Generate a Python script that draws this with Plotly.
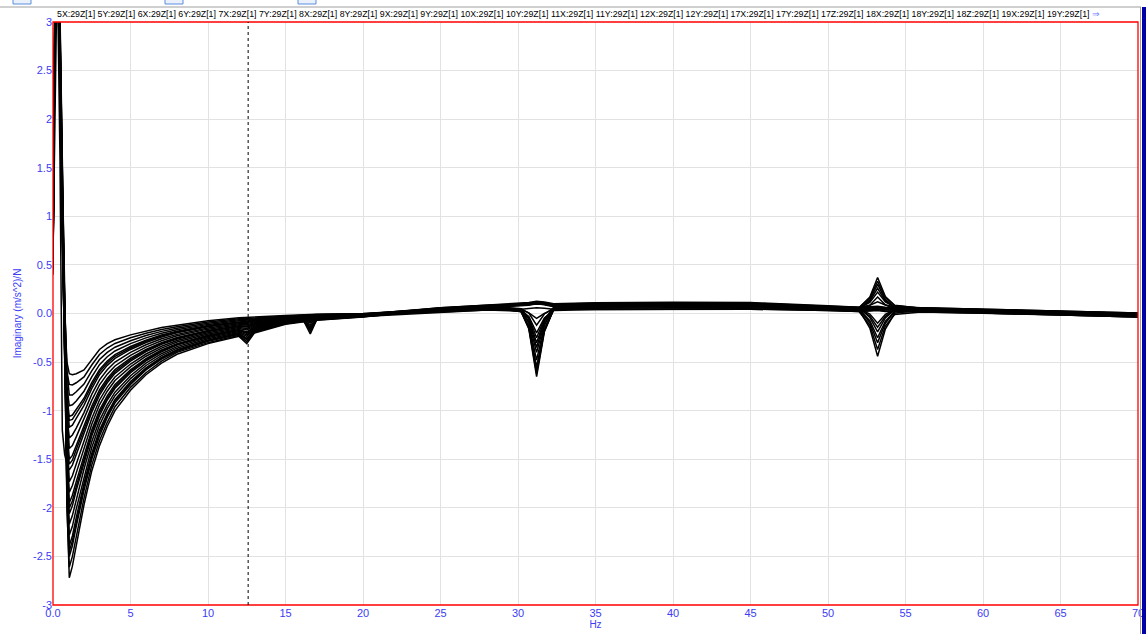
import plotly.graph_objects as go

# Frequency axis of the FRF estimates (Hz)
FREQ_HZ = [0.0, 0.15, 0.3, 0.45, 0.6, 0.75, 0.9, 1.05, 1.25, 1.5, 2.0, 2.5, 3.0, 3.5, 4.0,
           5.0, 6.0, 7.0, 8.0, 10.0, 12.0, 12.5, 13.0, 15.0, 16.2, 16.6, 17.0, 20.0,
           25.0, 28.0, 30.2, 30.7, 31.2, 31.7, 32.3, 35.0, 40.0, 45.0, 50.0,
           52.0, 52.7, 53.2, 53.7, 54.3, 56.0, 60.0, 65.0, 70.0]

# Imaginary part of accelerance, (m/s^2)/N, one list per response channel
frf_5X = [0.45, 3.6, 3.9, 3.0, 1.5, 0.1, -1.95,
          -2.72, -2.60, -2.38, -1.97, -1.62, -1.36, -1.16, -1.00, -0.79, -0.63, -0.51, -0.42, -0.31,
          -0.235, -0.31, -0.20, -0.11, -0.085, -0.21, -0.07, -0.035,
          0.045, 0.07, 0.022, -0.16, -0.65, -0.19, 0.044, 0.08, 0.085, 0.085, 0.06,
          0.05, 0.13, 0.26, 0.13, 0.067, 0.045, 0.03, 0.01, -0.01]
frf_5Y = [0.7, 3.3, 3.7, 2.8, 1.3, -0.1, -2.0,
          -2.61, -2.50, -2.29, -1.90, -1.56, -1.31, -1.12, -0.96, -0.76, -0.61, -0.49, -0.40, -0.30,
          -0.225, -0.29, -0.19, -0.105, -0.081, -0.18, -0.067, -0.033,
          0.035, 0.06, 0.075, 0.085, 0.10, 0.09, 0.07, 0.07, 0.075, 0.075, 0.05,
          0.04, -0.15, -0.44, -0.16, 0.002, 0.035, 0.02, 0.0, -0.02]
frf_6X = [1.1, 3.8, 3.5, 2.6, 1.1, -0.2, -1.85,
          -2.50, -2.39, -2.19, -1.82, -1.50, -1.26, -1.07, -0.92, -0.73, -0.58, -0.47, -0.39, -0.285,
          -0.215, -0.27, -0.183, -0.10, -0.077, -0.16, -0.063, -0.031,
          0.055, 0.08, 0.044, -0.10, -0.48, -0.125, 0.062, 0.10, 0.105, 0.105, 0.07,
          0.06, 0.17, 0.37, 0.175, 0.085, 0.055, 0.04, 0.02, 0.0]
frf_6Y = [0.6, 3.5, 3.6, 2.7, 1.2, -0.05, -1.75,
          -2.45, -2.34, -2.15, -1.78, -1.47, -1.23, -1.05, -0.90, -0.715, -0.57, -0.46, -0.38, -0.279,
          -0.21, -0.26, -0.178, -0.098, -0.075, -0.15, -0.061, -0.03,
          0.05, 0.075, 0.05, -0.06, -0.35, -0.08, 0.063, 0.085, 0.09, 0.09, 0.065,
          0.055, 0.06, 0.065, 0.055, 0.055, 0.05, 0.035, 0.015, -0.005]
frf_7X = [0.5, 3.4, 3.8, 3.1, 1.6, 0.2, -1.6,
          -2.39, -2.29, -2.10, -1.75, -1.44, -1.20, -1.03, -0.885, -0.70, -0.56, -0.452, -0.373, -0.273,
          -0.205, -0.255, -0.174, -0.096, -0.074, -0.14, -0.06, -0.030,
          0.015, 0.035, 0.045, 0.05, 0.06, 0.055, 0.045, 0.04, 0.045, 0.045, 0.03,
          0.02, 0.025, 0.03, 0.02, 0.02, 0.015, 0.005, -0.015, -0.035]
frf_7Y = [0.9, 3.7, 3.6, 2.5, 0.9, -0.35, -1.8,
          -2.28, -2.19, -2.01, -1.68, -1.38, -1.15, -0.98, -0.846, -0.67, -0.535, -0.433, -0.357, -0.26,
          -0.195, -0.235, -0.165, -0.091, -0.07, -0.12, -0.057, -0.028,
          0.04, 0.065, 0.023, -0.14, -0.58, -0.17, 0.042, 0.075, 0.08, 0.08, 0.055,
          0.045, -0.095, -0.30, -0.10, 0.017, 0.04, 0.025, 0.005, -0.015]
frf_8X = [0.6, 3.2, 3.9, 2.9, 1.4, 0.0, -1.55,
          -2.17, -2.08, -1.92, -1.60, -1.32, -1.10, -0.94, -0.81, -0.64, -0.51, -0.414, -0.341, -0.248,
          -0.185, -0.22, -0.157, -0.087, -0.066, -0.10, -0.054, -0.026,
          0.05, 0.075, 0.09, 0.0975, 0.11, 0.1025, 0.085, 0.085, 0.09, 0.09, 0.065,
          0.055, 0.115, 0.22, 0.12, 0.068, 0.05, 0.035, 0.015, -0.005]
frf_8Y = [0.8, 3.5, 3.4, 2.4, 0.8, -0.4, -1.6,
          -2.06, -1.98, -1.82, -1.53, -1.26, -1.05, -0.89, -0.77, -0.61, -0.488, -0.395, -0.325, -0.236,
          -0.175, -0.205, -0.148, -0.082, -0.062, -0.085, -0.05, -0.024,
          0.03, 0.055, 0.036, -0.05, -0.30, -0.07, 0.047, 0.055, 0.06, 0.06, 0.045,
          0.035, 0.04, 0.045, 0.035, 0.035, 0.03, 0.015, -0.005, -0.025]
frf_9X = [0.5, 3.6, 3.8, 2.8, 1.3, -0.2, -1.5,
          -2.00, -1.93, -1.78, -1.50, -1.23, -1.02, -0.87, -0.75, -0.595, -0.476, -0.386, -0.318, -0.23,
          -0.17, -0.198, -0.144, -0.08, -0.06, -0.078, -0.049, -0.023,
          0.04, 0.065, 0.08, 0.09, 0.105, 0.095, 0.075, 0.075, 0.08, 0.08, 0.055,
          0.045, 0.05, 0.055, 0.045, 0.045, 0.04, 0.025, 0.005, -0.015]
frf_9Y = [0.4, 3.6, 3.7, 2.7, 1.2, -0.1, -1.4,
          -1.95, -1.87, -1.73, -1.46, -1.20, -0.995, -0.847, -0.73, -0.58, -0.464, -0.376, -0.31, -0.223,
          -0.165, -0.19, -0.139, -0.077, -0.058, -0.07, -0.047, -0.022,
          0.055, 0.08, 0.095, 0.1025, 0.115, 0.1075, 0.09, 0.10, 0.105, 0.105, 0.07,
          0.06, -0.04, -0.19, -0.045, 0.04, 0.055, 0.04, 0.02, 0.0]
frf_10X = [1.0, 3.3, 3.5, 2.3, 0.7, -0.5, -1.45,
           -1.84, -1.77, -1.64, -1.38, -1.14, -0.94, -0.80, -0.69, -0.55, -0.44, -0.356, -0.294, -0.21,
           -0.155, -0.17, -0.13, -0.072, -0.055, -0.06, -0.044, -0.021,
           0.035, 0.06, 0.02, -0.13, -0.55, -0.16, 0.039, 0.07, 0.075, 0.075, 0.05,
           0.04, 0.14, 0.30, 0.145, 0.061, 0.035, 0.02, 0.0, -0.02]
frf_10Y = [0.55, 3.7, 3.8, 2.9, 1.3, 0.05, -1.2,
           -1.73, -1.67, -1.55, -1.31, -1.08, -0.89, -0.758, -0.654, -0.52, -0.417, -0.337, -0.278, -0.198,
           -0.145, -0.155, -0.122, -0.068, -0.051, -0.054, -0.04, -0.019,
           0.045, 0.07, 0.085, 0.09, 0.10, 0.095, 0.08, 0.08, 0.085, 0.085, 0.06,
           0.05, 0.055, 0.06, 0.05, 0.05, 0.045, 0.03, 0.01, -0.01]
frf_11X = [0.85, 3.4, 3.3, 1.6, -1.2, -1.45, -1.55,
           -1.61, -1.56, -1.45, -1.24, -1.015, -0.84, -0.713, -0.616, -0.49, -0.393, -0.318, -0.262, -0.186,
           -0.135, -0.14, -0.113, -0.063, -0.047, -0.048, -0.037, -0.017,
           0.015, 0.035, 0.025, -0.03, -0.20, -0.045, 0.03, 0.04, 0.045, 0.045, 0.03,
           0.02, -0.12, -0.37, -0.13, -0.01, 0.015, 0.005, -0.015, -0.035]
frf_11Y = [0.7, 3.5, 3.7, 2.6, 1.0, -0.25, -1.3,
           -1.55, -1.51, -1.40, -1.20, -0.985, -0.813, -0.69, -0.597, -0.475, -0.381, -0.309, -0.254, -0.18,
           -0.13, -0.134, -0.108, -0.06, -0.045, -0.046, -0.035, -0.016,
           0.035, 0.06, 0.044, -0.04, -0.25, -0.055, 0.054, 0.07, 0.075, 0.075, 0.05,
           0.04, 0.045, 0.05, 0.04, 0.04, 0.035, 0.02, 0.0, -0.02]
frf_12X = [0.65, 3.6, 3.6, 2.6, 1.0, -0.2, -1.15,
           -1.50, -1.46, -1.36, -1.165, -0.955, -0.787, -0.668, -0.578, -0.46, -0.37, -0.30, -0.246, -0.174,
           -0.125, -0.128, -0.104, -0.058, -0.043, -0.044, -0.034, -0.015,
           0.06, 0.09, 0.105, 0.1125, 0.125, 0.1175, 0.10, 0.11, 0.115, 0.112, 0.08,
           0.065, 0.085, 0.12, 0.087, 0.069, 0.06, 0.045, 0.025, 0.005]
frf_12Y = [0.5, 3.5, 3.9, 3.0, 1.5, 0.15, -0.95,
           -1.39, -1.36, -1.27, -1.09, -0.894, -0.735, -0.624, -0.54, -0.43, -0.346, -0.28, -0.23, -0.161,
           -0.115, -0.115, -0.096, -0.054, -0.039, -0.04, -0.03, -0.013,
           0.035, 0.06, 0.032, -0.085, -0.40, -0.105, 0.047, 0.07, 0.075, 0.075, 0.05,
           0.04, 0.045, 0.05, 0.04, 0.04, 0.035, 0.02, 0.0, -0.02]
frf_17X = [0.95, 3.8, 3.5, 2.5, 0.9, -0.3, -1.05,
           -1.28, -1.25, -1.18, -1.02, -0.833, -0.683, -0.579, -0.50, -0.40, -0.322, -0.26, -0.215, -0.149,
           -0.105, -0.104, -0.087, -0.049, -0.036, -0.036, -0.027, -0.011,
           0.045, 0.07, 0.085, 0.09, 0.10, 0.095, 0.08, 0.08, 0.085, 0.085, 0.06,
           0.05, -0.005, -0.10, -0.01, 0.038, 0.045, 0.03, 0.01, -0.01]
frf_17Y = [0.6, 3.3, 3.6, 2.7, 1.2, 0.0, -0.85,
           -1.17, -1.15, -1.08, -0.945, -0.773, -0.63, -0.534, -0.462, -0.37, -0.298, -0.241, -0.199, -0.136,
           -0.095, -0.093, -0.078, -0.044, -0.032, -0.032, -0.024, -0.009,
           0.03, 0.055, 0.05, 0.005, -0.12, -0.005, 0.056, 0.065, 0.07, 0.07, 0.045,
           0.035, 0.085, 0.17, 0.09, 0.046, 0.03, 0.015, -0.005, -0.025]
frf_17Z = [0.9, 3.6, 3.4, 2.4, 0.8, -0.35, -0.95,
           -1.10, -1.09, -1.03, -0.90, -0.74, -0.60, -0.51, -0.44, -0.355, -0.285, -0.231, -0.19, -0.13,
           -0.09, -0.088, -0.074, -0.042, -0.03, -0.03, -0.022, -0.008,
           0.06, 0.085, 0.10, 0.105, 0.115, 0.11, 0.095, 0.105, 0.11, 0.108, 0.075,
           0.065, 0.07, 0.075, 0.065, 0.065, 0.06, 0.045, 0.025, 0.005]
frf_18X = [0.75, 3.6, 3.7, 2.8, 1.1, -0.15, -0.85,
           -1.06, -1.045, -0.99, -0.872, -0.712, -0.578, -0.49, -0.424, -0.34, -0.275, -0.222, -0.183, -0.124,
           -0.085, -0.082, -0.07, -0.04, -0.028, -0.028, -0.02, -0.007,
           0.05, 0.075, 0.09, 0.095, 0.105, 0.10, 0.085, 0.085, 0.09, 0.09, 0.065,
           0.055, 0.06, 0.065, 0.055, 0.055, 0.05, 0.035, 0.015, -0.005]
frf_18Y = [0.45, 3.4, 3.5, 2.4, 0.9, -0.2, -0.75,
           -0.95, -0.94, -0.90, -0.80, -0.652, -0.526, -0.445, -0.386, -0.31, -0.251, -0.203, -0.167, -0.112,
           -0.075, -0.07, -0.061, -0.035, -0.024, -0.024, -0.017, -0.005,
           0.04, 0.065, 0.019, -0.15, -0.62, -0.18, 0.04, 0.075, 0.08, 0.08, 0.055,
           0.045, -0.075, -0.25, -0.08, 0.021, 0.04, 0.025, 0.005, -0.015]
frf_18Z = [1.05, 3.7, 3.8, 2.9, 1.3, 0.1, -0.6,
           -0.84, -0.84, -0.806, -0.726, -0.59, -0.474, -0.40, -0.347, -0.28, -0.227, -0.184, -0.152, -0.10,
           -0.065, -0.06, -0.052, -0.03, -0.02, -0.02, -0.014, -0.004,
           0.055, 0.08, 0.095, 0.105, 0.12, 0.11, 0.09, 0.09, 0.095, 0.095, 0.07,
           0.06, 0.16, 0.33, 0.165, 0.082, 0.055, 0.04, 0.02, 0.0]
frf_19X = [0.55, 3.5, 3.4, 2.5, 1.0, -0.1, -0.6,
           -0.73, -0.735, -0.713, -0.653, -0.53, -0.422, -0.355, -0.308, -0.25, -0.204, -0.164, -0.136, -0.087,
           -0.055, -0.05, -0.044, -0.025, -0.016, -0.016, -0.011, -0.002,
           0.02, 0.04, 0.041, 0.006, -0.05, 0.0, 0.045, 0.045, 0.05, 0.05, 0.035,
           0.025, 0.03, 0.035, 0.025, 0.025, 0.02, 0.005, -0.015, -0.035]
frf_19Y = [0.8, 3.6, 3.7, 2.6, 1.1, 0.0, -0.5,
           -0.62, -0.63, -0.62, -0.58, -0.47, -0.37, -0.31, -0.27, -0.22, -0.18, -0.145, -0.12, -0.075,
           -0.045, -0.04, -0.035, -0.02, -0.012, -0.012, -0.008, 0.0,
           0.045, 0.07, 0.085, 0.09, 0.10, 0.095, 0.08, 0.08, 0.085, 0.085, 0.06,
           0.05, -0.025, -0.14, -0.03, 0.035, 0.045, 0.03, 0.01, -0.01]

CHANNEL_LABELS = ["5X:29Z[1]", "5Y:29Z[1]", "6X:29Z[1]", "6Y:29Z[1]", "7X:29Z[1]", "7Y:29Z[1]",
                  "8X:29Z[1]", "8Y:29Z[1]", "9X:29Z[1]", "9Y:29Z[1]", "10X:29Z[1]", "10Y:29Z[1]",
                  "11X:29Z[1]", "11Y:29Z[1]", "12X:29Z[1]", "12Y:29Z[1]", "17X:29Z[1]", "17Y:29Z[1]",
                  "17Z:29Z[1]", "18X:29Z[1]", "18Y:29Z[1]", "18Z:29Z[1]", "19X:29Z[1]", "19Y:29Z[1]"]
CHANNEL_DATA = [frf_5X, frf_5Y, frf_6X, frf_6Y, frf_7X, frf_7Y, frf_8X, frf_8Y, frf_9X, frf_9Y,
                frf_10X, frf_10Y, frf_11X, frf_11Y, frf_12X, frf_12Y, frf_17X, frf_17Y, frf_17Z,
                frf_18X, frf_18Y, frf_18Z, frf_19X, frf_19Y]

X_TICKS = [0, 5, 10, 15, 20, 25, 30, 35, 40, 45, 50, 55, 60, 65, 70]
X_TICK_TEXT = ["0.0", "5", "10", "15", "20", "25", "30", "35", "40", "45", "50", "55", "60", "65", "70"]
Y_TICKS = [-3, -2.5, -2, -1.5, -1, -0.5, 0, 0.5, 1, 1.5, 2, 2.5, 3]
Y_TICK_TEXT = ["-3", "-2.5", "-2", "-1.5", "-1", "-0.5", "0.0", "0.5", "1", "1.5", "2", "2.5", "3"]
CURSOR_HZ = 12.59

W, H = 1147, 634
M_L, M_R, M_T, M_B = 53, 9, 22, 29
PLOT_W = W - M_L - M_R
PLOT_H = H - M_T - M_B

FONT = "Liberation Sans Narrow, Arial Narrow, Liberation Sans, sans-serif"
AXIS_BLUE = "#3c3cf5"
RED = "#ff0000"


def px_x(p):
    return (p - M_L) / PLOT_W


def px_y(p):
    return (H - M_B - p) / PLOT_H


fig = go.Figure()
for label, values in zip(CHANNEL_LABELS, CHANNEL_DATA):
    fig.add_trace(go.Scatter(x=FREQ_HZ, y=values, mode="lines", name=label,
                             line=dict(color="black", width=1.5), showlegend=False,
                             hoverinfo="x+y+name"))

shapes = [
    # red reference line at zero, beneath the curves
    dict(type="line", xref="paper", yref="y", x0=0, x1=1, y0=0, y1=0, layer="below",
         line=dict(color=RED, width=1.2)),
    # red plot frame
    dict(type="rect", xref="paper", yref="paper", x0=0, x1=1, y0=0, y1=1, layer="above",
         line=dict(color=RED, width=1.3)),
    # cursor
    dict(type="line", xref="x", yref="paper", x0=CURSOR_HZ, x1=CURSOR_HZ, y0=0, y1=1,
         line=dict(color="black", width=1, dash="3px,3px")),
    # window chrome: header rule and right-hand frame
    dict(type="line", xref="paper", yref="paper", x0=px_x(0), x1=px_x(1141), y0=px_y(7), y1=px_y(7),
         line=dict(color="#a0a0a0", width=1)),
    dict(type="line", xref="paper", yref="paper", x0=px_x(1140.5), x1=px_x(1140.5), y0=px_y(7),
         y1=px_y(634), line=dict(color="#a0a0a0", width=1)),
    dict(type="rect", xref="paper", yref="paper", x0=px_x(1142), x1=px_x(1146), y0=px_y(7),
         y1=px_y(634), line=dict(width=0), fillcolor="#0000a8"),
]
for bx in (13, 165, 298):
    shapes.append(dict(type="rect", xref="paper", yref="paper", x0=px_x(bx), x1=px_x(bx + 18),
                       y0=px_y(4), y1=px_y(-2), line=dict(color="#5b8de0", width=1),
                       fillcolor="#eaf1fb"))

header = " ".join(CHANNEL_LABELS) + ' <span style="color:#6f7dff">⇒</span>'

fig.update_layout(
    width=W, height=H,
    margin=dict(l=M_L, r=M_R, t=M_T, b=M_B, autoexpand=False),
    paper_bgcolor="white", plot_bgcolor="white",
    shapes=shapes,
    annotations=[dict(text=header, xref="paper", yref="paper", x=px_x(55), y=1, xanchor="left",
                      yanchor="bottom", yshift=1, showarrow=False,
                      font=dict(family=FONT, size=8.8, color="black"))],
    xaxis=dict(range=[0, 70], tickvals=X_TICKS, ticktext=X_TICK_TEXT, showgrid=True,
               gridcolor="#e2e2e2", gridwidth=1, zeroline=False, showline=False,
               ticks="", automargin=False,
               tickfont=dict(family=FONT, size=11, color=AXIS_BLUE),
               title=dict(text="Hz", standoff=0, font=dict(family=FONT, size=10, color=AXIS_BLUE))),
    yaxis=dict(range=[-3, 3], tickvals=Y_TICKS, ticktext=Y_TICK_TEXT, showgrid=True,
               gridcolor="#e2e2e2", gridwidth=1, zeroline=False, showline=False,
               ticks="", automargin=False,
               tickfont=dict(family=FONT, size=11, color=AXIS_BLUE),
               title=dict(text="Imaginary (m/s^2)/N", standoff=9,
                          font=dict(family=FONT, size=10, color=AXIS_BLUE))),
)

fig.write_html("out.html")
